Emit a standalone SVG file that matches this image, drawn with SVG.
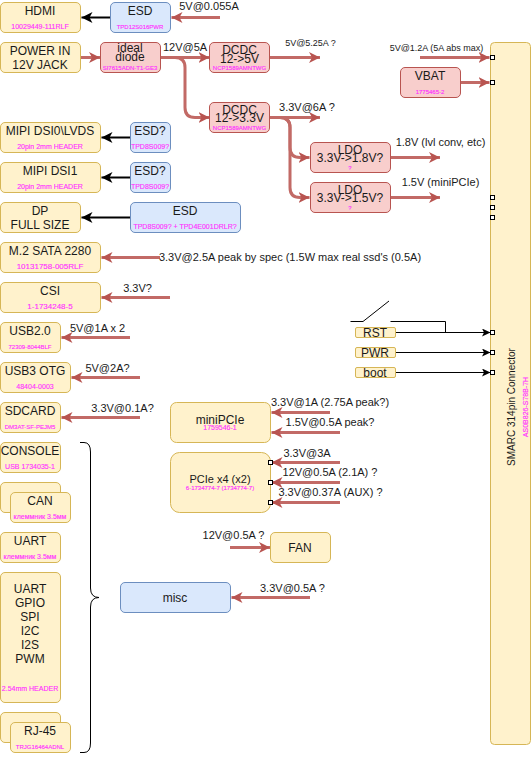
<svg xmlns="http://www.w3.org/2000/svg" width="531" height="773" viewBox="0 0 531 773">
<style>
text{font-family:"Liberation Sans",Arial,sans-serif;font-size:12px;fill:#1a1a1a;text-anchor:middle}
.l{font-size:11px}
.l9{font-size:9px}
.p8,.p,.p6{fill:#ff33ff;stroke:#ff33ff;stroke-width:.15}
.p8{font-size:8px}
.p{font-size:7px}
.p6{font-size:6px}
.y{fill:#fff2cc;stroke:#d6b656}
.b{fill:#dae8fc;stroke:#6c8ebf}
.r{fill:#f8cecc;stroke:#b85450}
.port{fill:#fff;stroke:#000}
.red{fill:none;stroke:#c26a66;stroke-width:3;marker-end:url(#ra)}
.blk{fill:none;stroke:#000;stroke-width:2;marker-end:url(#ba)}
.thin{fill:none;stroke:#000;marker-end:url(#ta)}
.ln{fill:none;stroke:#000}
</style>
<defs>
<marker id="ra" markerUnits="userSpaceOnUse" markerWidth="14" markerHeight="14" refX="11" refY="6" orient="auto"><path d="M0,0.5L11,6L0,11.5L3,6Z" fill="#b85450"/></marker>
<marker id="ba" markerUnits="userSpaceOnUse" markerWidth="14" markerHeight="14" refX="11" refY="6" orient="auto"><path d="M0,0.5L11,6L0,11.5L3,6Z" fill="#000"/></marker>
<marker id="ta" markerUnits="userSpaceOnUse" markerWidth="10" markerHeight="10" refX="8.5" refY="4" orient="auto"><path d="M0,0L8.5,4L0,8L2,4Z" fill="#000"/></marker>
</defs>

<g id="connectors">
<path class="blk" d="M110,17.5H81.5"/>
<path class="blk" d="M130,137.5H101.5"/>
<path class="blk" d="M130,177.5H101.5"/>
<path class="blk" d="M130,217.5H81.5"/>
<path class="red" d="M220,17.5H171.5"/>
<path class="red" d="M81,57.5H100"/>
<path class="red" d="M161,57.5H209.5"/>
<path class="red" d="M161,57.5H175Q185,57.5 185,67.5V107.5Q185,117.5 195,117.5H209.5"/>
<path class="red" d="M270,57.5H320"/>
<path class="red" d="M420,57.5H489.5"/>
<path class="red" d="M461,82.5H489.5"/>
<path class="red" d="M270,117.5H320"/>
<path class="red" d="M270,117.5H280Q290,117.5 290,127.5V147.5Q290,157.5 300,157.5H309.5"/>
<path class="red" d="M270,117.5H280Q290,117.5 290,127.5V187.5Q290,197.5 300,197.5H309.5"/>
<path class="red" d="M390,157.5H440"/>
<path class="red" d="M390,197.5H440"/>
<path class="red" d="M160,257.5H101.5"/>
<path class="red" d="M170,297.5H101.5"/>
<path class="red" d="M130,337.5H61.5"/>
<path class="red" d="M140,377.5H71.5"/>
<path class="red" d="M140,417.5H61.5"/>
<path class="red" d="M330,412.5H271.5"/>
<path class="red" d="M340,432.5H271.5"/>
<path class="red" d="M340,462.5H271.5"/>
<path class="red" d="M340,482.5H271.5"/>
<path class="red" d="M340,502.5H271.5"/>
<path class="red" d="M230,547.5H270"/>
<path class="red" d="M310,597.5H231.5"/>
<path class="thin" d="M395.5,332.5H490.5"/>
<path class="thin" d="M395.5,352.5H490.5"/>
<path class="thin" d="M395.5,372.5H490.5"/>
<path class="ln" d="M350.5,321.5H363L389,301"/>
<path class="ln" d="M390.5,321.5H445.5V332.5"/>
<path class="ln" d="M80,442.5H84Q90.5,442.5 90.5,452V588Q90.5,597.5 99,597.5Q90.5,597.5 90.5,607V743Q90.5,752.5 84,752.5H80"/>
</g>

<g id="hdmi"><rect class="y" x="0.5" y="2.5" width="80" height="30" rx="4.5"/><text x="40" y="15">HDMI</text><text class="p" x="40" y="29">10029449-111RLF</text></g>
<g id="esd-hdmi"><rect class="b" x="110.5" y="2.5" width="60" height="30" rx="4.5"/><text x="140" y="15">ESD</text><text class="p6" x="140" y="29">TPD12S016PWR</text></g>
<g id="power-in"><rect class="y" x="0.5" y="42.5" width="80" height="30" rx="4.5"/><text x="40" y="55">POWER IN</text><text x="40" y="69">12V JACK</text></g>
<g id="ideal-diode"><rect class="r" x="100.5" y="42.5" width="60" height="30" rx="4.5"/><text x="130" y="52">ideal</text><text x="130" y="61">diode</text><text class="p6" x="130" y="70">SI7615ADN-T1-GE3</text></g>
<g id="dcdc-5v"><rect class="r" x="209.5" y="42.5" width="60" height="30" rx="4.5"/><text x="239.5" y="53.5">DCDC</text><text x="239.5" y="62.5">12-&gt;5V</text><text class="p6" x="239.5" y="70">NCP1589AMNTWG</text></g>
<g id="dcdc-33v"><rect class="r" x="209.5" y="102.5" width="60" height="30" rx="4.5"/><text x="239.5" y="113.5">DCDC</text><text x="239.5" y="122">12-&gt;3.3V</text><text class="p6" x="239.5" y="130">NCP1589AMNTWG</text></g>
<g id="mipi-dsi0"><rect class="y" x="0.5" y="122.5" width="100" height="30" rx="4.5"/><text x="50" y="135">MIPI DSI0\LVDS</text><text class="p" x="50" y="149">20pin 2mm HEADER</text></g>
<g id="esd-dsi0"><rect class="b" x="130.5" y="122.5" width="40" height="30" rx="4.5"/><text x="150" y="135">ESD?</text><text class="p" x="150" y="149">TPD8S009?</text></g>
<g id="mipi-dsi1"><rect class="y" x="0.5" y="162.5" width="100" height="30" rx="4.5"/><text x="50" y="175">MIPI DSI1</text><text class="p" x="50" y="189">20pin 2mm HEADER</text></g>
<g id="esd-dsi1"><rect class="b" x="130.5" y="162.5" width="40" height="30" rx="4.5"/><text x="150" y="175">ESD?</text><text class="p" x="150" y="189">TPD8S009?</text></g>
<g id="dp"><rect class="y" x="0.5" y="202.5" width="80" height="30" rx="4.5"/><text x="40" y="215">DP</text><text x="40" y="229">FULL SIZE</text></g>
<g id="esd-dp"><rect class="b" x="130.5" y="202.5" width="110" height="30" rx="4.5"/><text x="185" y="215">ESD</text><text class="p" x="185" y="229">TPD8S009? + TPD4E001DRLR?</text></g>
<g id="m2"><rect class="y" x="0.5" y="242.5" width="100" height="30" rx="4.5"/><text x="50" y="255">M.2 SATA 2280</text><text class="p8" x="50" y="269">10131758-005RLF</text></g>
<g id="csi"><rect class="y" x="0.5" y="282.5" width="100" height="30" rx="4.5"/><text x="50" y="295">CSI</text><text class="p8" x="50" y="309">1-1734248-5</text></g>
<g id="usb2"><rect class="y" x="0.5" y="322.5" width="60" height="30" rx="4.5"/><text x="30" y="335">USB2.0</text><text class="p6" x="30" y="349">72309-8044BLF</text></g>
<g id="usb3"><rect class="y" x="0.5" y="362.5" width="70" height="30" rx="4.5"/><text x="35" y="375">USB3 OTG</text><text class="p" x="35" y="389">48404-0003</text></g>
<g id="sdcard"><rect class="y" x="0.5" y="402.5" width="60" height="30" rx="4.5"/><text x="30" y="415">SDCARD</text><text class="p6" x="30" y="429">DM3AT-SF-PEJM5</text></g>
<g id="console"><rect class="y" x="0.5" y="442.5" width="60" height="30" rx="4.5"/><text x="30" y="455">CONSOLE</text><text class="p" x="30" y="469">USB 1734035-1</text></g>
<g id="can-back"><rect class="y" x="0.5" y="482.5" width="60" height="30" rx="4.5"/></g>
<g id="can"><rect class="y" x="10.5" y="492.5" width="60" height="30" rx="4.5"/><text x="40" y="505">CAN</text><text class="p" x="40" y="519">клеммник 3.5мм</text></g>
<g id="uart"><rect class="y" x="0.5" y="532.5" width="60" height="30" rx="4.5"/><text x="30" y="545">UART</text><text class="p" x="30" y="559">клеммник 3.5мм</text></g>
<g id="header"><rect class="y" x="0.5" y="572.5" width="60" height="130" rx="4.5"/><text x="30" y="592.5">UART</text><text x="30" y="606.5">GPIO</text><text x="30" y="620.5">SPI</text><text x="30" y="634.5">I2C</text><text x="30" y="648.5">I2S</text><text x="30" y="662.5">PWM</text><text class="p" x="30" y="691">2.54mm HEADER</text></g>
<g id="rj45-back"><rect class="y" x="0.5" y="712.5" width="60" height="30" rx="4.5"/></g>
<g id="rj45"><rect class="y" x="10.5" y="722.5" width="60" height="30" rx="4.5"/><text x="40" y="735">RJ-45</text><text class="p6" x="40" y="749">TRJG16464ADNL</text></g>
<g id="misc"><rect class="b" x="120.5" y="582.5" width="110" height="30" rx="4.5"/><text x="175" y="601.5">misc</text></g>
<g id="minipcie"><rect class="y" x="170.5" y="402.5" width="100" height="40" rx="6"/><text x="220" y="424">miniPCIe</text><text class="p" x="220" y="430">1759546-1</text></g>
<g id="pcie"><rect class="y" x="170.5" y="452.5" width="100" height="60" rx="9"/><text class="l" x="220" y="483">PCIe x4 (x2)</text><text class="p6" x="220" y="490">6-1734774-7 (1734774-7)</text><rect class="port" x="268.5" y="460.5" width="4" height="4"/><rect class="port" x="268.5" y="480.5" width="4" height="4"/><rect class="port" x="268.5" y="500.5" width="4" height="4"/></g>
<g id="fan"><rect class="y" x="270.5" y="532.5" width="60" height="30" rx="4.5"/><text x="300" y="552">FAN</text></g>
<g id="vbat"><rect class="r" x="400.5" y="67.5" width="60" height="30" rx="4.5"/><text x="430" y="80">VBAT</text><text class="p6" x="430" y="94">1775465-2</text></g>
<g id="ldo-18"><rect class="r" x="310.5" y="142.5" width="80" height="30" rx="4.5"/><text x="350" y="154">LDO</text><text x="350" y="162">3.3V-&gt;1.8V?</text><text class="p6" x="350" y="170">?</text></g>
<g id="ldo-15"><rect class="r" x="310.5" y="182.5" width="80" height="30" rx="4.5"/><text x="350" y="194">LDO</text><text x="350" y="202">3.3V-&gt;1.5V?</text><text class="p6" x="350" y="210">?</text></g>
<g id="smarc"><rect class="y" x="490.5" y="42.5" width="40" height="702" rx="4"/><text transform="translate(515,407) rotate(-90)" style="font-size:10px">SMARC 314pin Connector</text><text class="p" transform="translate(527.5,407) rotate(-90)">AS0B826-S78B-7H</text>
<rect class="port" x="490.5" y="55.5" width="4" height="4"/><rect class="port" x="490.5" y="80.5" width="4" height="4"/><rect class="port" x="490.5" y="195.5" width="4" height="4"/><rect class="port" x="490.5" y="205.5" width="4" height="4"/><rect class="port" x="490.5" y="215.5" width="4" height="4"/><rect class="port" x="490.5" y="330.5" width="4" height="4"/><rect class="port" x="490.5" y="350.5" width="4" height="4"/><rect class="port" x="490.5" y="370.5" width="4" height="4"/></g>
<g id="rst"><rect class="y" x="355.5" y="327.5" width="40" height="10" rx="1.5"/><text x="375" y="336.5">RST</text></g>
<g id="pwr"><rect class="y" x="355.5" y="347.5" width="40" height="10" rx="1.5"/><text x="375" y="356.5">PWR</text></g>
<g id="boot"><rect class="y" x="355.5" y="367.5" width="40" height="10" rx="1.5"/><text x="375" y="376.5">boot</text></g>

<g id="labels">
<text class="l" x="209" y="10">5V@0.055A</text>
<text class="l" x="185" y="51">12V@5A</text>
<text class="l9" x="310.5" y="46">5V@5.25A ?</text>
<text class="l9" x="436.5" y="51">5V@1.2A (5A abs max)</text>
<text class="l" x="307" y="111">3.3V@6A ?</text>
<text class="l" x="440.5" y="146">1.8V (lvl conv, etc)</text>
<text class="l" x="440.5" y="186">1.5V (miniPCIe)</text>
<text class="l" x="290" y="261">3.3V@2.5A peak by spec (1.5W max real ssd's (0.5A)</text>
<text class="l" x="137.5" y="292">3.3V?</text>
<text class="l" x="97.5" y="332">5V@1A x 2</text>
<text class="l" x="107.5" y="372">5V@2A?</text>
<text class="l" x="122.5" y="412">3.3V@0.1A?</text>
<text class="l" x="330" y="406">3.3V@1A (2.75A peak?)</text>
<text class="l" x="330" y="426">1.5V@0.5A peak?</text>
<text class="l" x="307" y="457">3.3V@3A</text>
<text class="l" x="330" y="476">12V@0.5A (2.1A) ?</text>
<text class="l" x="330.5" y="496">3.3V@0.37A (AUX) ?</text>
<text class="l" x="233.5" y="539">12V@0.5A ?</text>
<text class="l" x="292.5" y="592">3.3V@0.5A ?</text>
</g>
</svg>
